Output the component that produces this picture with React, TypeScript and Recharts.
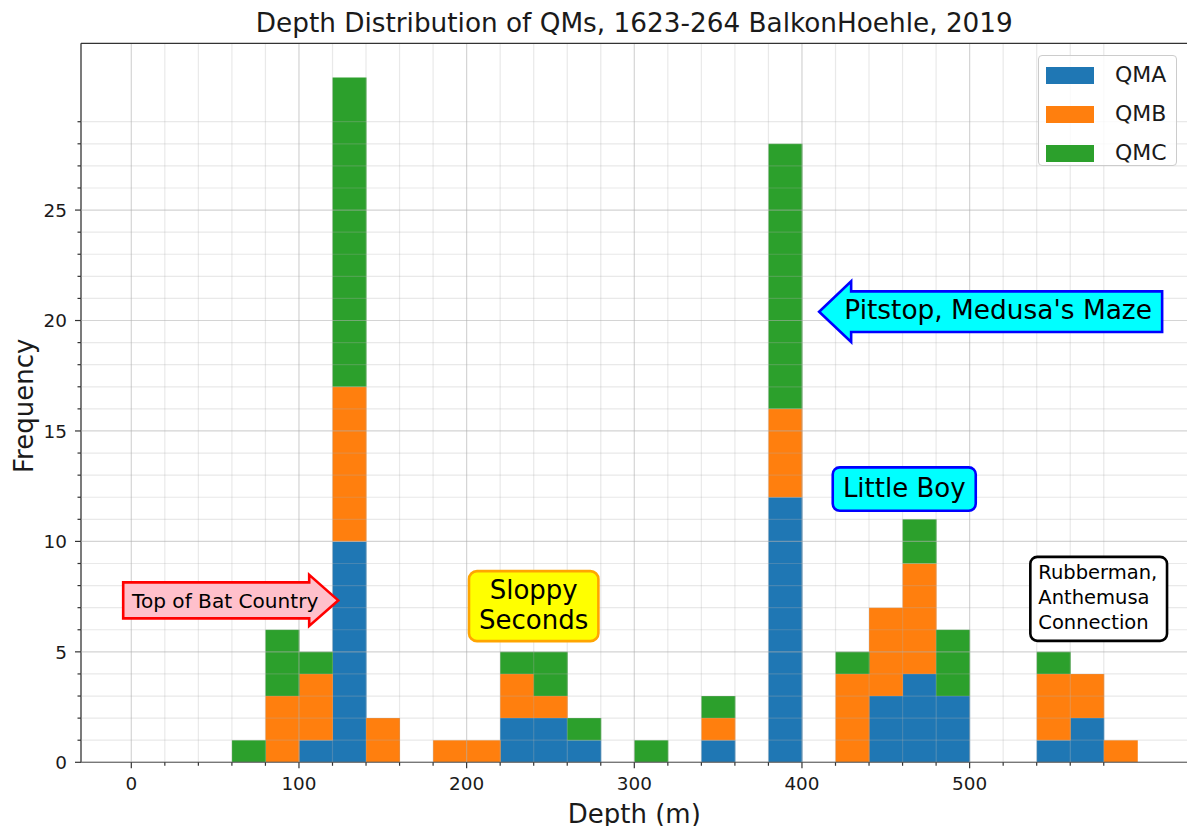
import React from 'react';
import {
  BarChart,
  Bar,
  XAxis,
  YAxis,
  CartesianGrid,
  ReferenceLine,
  ReferenceDot,
  Legend,
  Label,
} from 'recharts';

// ---------- data ----------
const binStarts = [60, 80, 100, 120, 140, 160, 180, 200, 220, 240, 260, 280, 300, 320, 340, 360, 380, 400, 420, 440, 460, 480, 500, 520, 540, 560, 580];
const binWidth = 20;
const qmaCounts = [0, 0, 1, 10, 0, 0, 0, 0, 2, 2, 1, 0, 0, 0, 1, 0, 12, 0, 0, 3, 4, 3, 0, 0, 1, 2, 0];
const qmbCounts = [0, 3, 3, 7, 2, 0, 1, 1, 2, 1, 0, 0, 0, 0, 1, 0, 4, 0, 4, 4, 5, 0, 0, 0, 3, 2, 1];
const qmcCounts = [1, 3, 1, 14, 0, 0, 0, 0, 1, 2, 1, 0, 1, 0, 1, 0, 12, 0, 1, 0, 2, 3, 0, 0, 1, 0, 0];
const seriesNames = ['QMA', 'QMB', 'QMC'];

const xMajorTicks = [0, 100, 200, 300, 400, 500];
const xMinorTicks = [0, 20, 40, 60, 80, 100, 120, 140, 160, 180, 200, 220, 240, 260, 280, 300, 320, 340, 360, 380, 400, 420, 440, 460, 480, 500, 520, 540, 560, 580];
const yMajorTicks = [0, 5, 10, 15, 20, 25];
const yMinorTicks = [0, 1, 2, 3, 4, 5, 6, 7, 8, 9, 10, 11, 12, 13, 14, 15, 16, 17, 18, 19, 20, 21, 22, 23, 24, 25, 26, 27, 28, 29];
const xDomain: [number, number] = [-30, 630];
const yDomain: [number, number] = [0, 32.55];

const titleText = 'Depth Distribution of QMs, 1623-264 BalkonHoehle, 2019';
const xLabelText = 'Depth (m)';
const yLabelText = 'Frequency';

// annotation texts and their anchor positions (data coordinates)
const annotationLabels = [
  ['Top of Bat Country'],
  ['Sloppy', 'Seconds'],
  ["Pitstop, Medusa's Maze"],
  ['Little Boy'],
  ['Rubberman,', 'Anthemusa', 'Connection'],
];
const annotationX = [56, 240, 517, 461, 577];
const annotationY = [7.33, 7.07, 20.4, 12.37, 7.4];

// ---------- styles ----------
const FONT = "'DejaVu Sans', 'Liberation Sans', sans-serif";
const seriesColors = ['#1f77b4', '#ff7f0e', '#2ca02c'];
const TEXT = '#1a1a1a';
const SPINE = '#333333';

const data = binStarts.map((s, i) => ({
  mid: s + binWidth / 2,
  QMA: qmaCounts[i],
  QMB: qmbCounts[i],
  QMC: qmcCounts[i],
}));

const allXTicks = Array.from(new Set([...xMinorTicks, ...xMajorTicks])).sort((a, b) => a - b);
const allYTicks = Array.from(new Set([...yMinorTicks, ...yMajorTicks])).sort((a, b) => a - b);
const xMinorGrid = xMinorTicks.filter((v) => !xMajorTicks.includes(v));
const yMinorGrid = yMinorTicks.filter((v) => !yMajorTicks.includes(v));

const XTick = (props: any) => {
  const { x, y, payload } = props;
  const v = payload.value;
  const major = xMajorTicks.includes(v);
  return (
    <g>
      <line x1={x} x2={x} y1={y} y2={y + (major ? 6 : 3.5)} stroke={SPINE} strokeWidth={1.2} />
      {major && (
        <text x={x} y={y + 27.7} textAnchor="middle" fontSize={18.4} fontFamily={FONT} fill={TEXT}>
          {v}
        </text>
      )}
    </g>
  );
};

const YTick = (props: any) => {
  const { x, y, payload } = props;
  const v = payload.value;
  const major = yMajorTicks.includes(v);
  return (
    <g>
      <line x1={x} x2={x - (major ? 6 : 3.5)} y1={y} y2={y} stroke={SPINE} strokeWidth={1.2} />
      {major && (
        <text x={x - 14} y={y + 6.7} textAnchor="end" fontSize={18.4} fontFamily={FONT} fill={TEXT}>
          {v}
        </text>
      )}
    </g>
  );
};

const renderYLabel = (props: any) => {
  const vb = props.viewBox || {};
  const cx = vb.x + 33;
  const cy = vb.y + vb.height / 2 + 3;
  return (
    <text x={cx} y={cy} transform={`rotate(-90 ${cx} ${cy})`} textAnchor="middle" fontSize={26} fontFamily={FONT} fill={TEXT}>
      {yLabelText}
    </text>
  );
};

const renderXLabel = (props: any) => {
  const vb = props.viewBox || {};
  const cx = vb.x + vb.width / 2;
  const cy = vb.y + 61;
  return (
    <text x={cx} y={cy} textAnchor="middle" fontSize={26} fontFamily={FONT} fill={TEXT}>
      {xLabelText}
    </text>
  );
};

const renderLegend = (props: any) => {
  const payload = props.payload || [];
  return (
    <div
      style={{
        position: 'relative',
        width: 139,
        height: 111,
        boxSizing: 'border-box',
        border: '1px solid #cccccc',
        borderRadius: 4,
        background: 'rgba(255,255,255,0.8)',
        fontFamily: FONT,
      }}
    >
      {payload.map((p: any, i: number) => (
        <div key={p.value} style={{ position: 'absolute', left: 0, top: 19 + i * 39 - 15, height: 30, width: '100%' }}>
          <div style={{ position: 'absolute', left: 7, top: 6.5, width: 48, height: 17, background: p.color }} />
          <div style={{ position: 'absolute', left: 76, top: 0, height: 30, lineHeight: '30px', fontSize: 22, color: TEXT }}>
            {p.value}
          </div>
        </div>
      ))}
    </div>
  );
};

type Shape = (p: any) => React.ReactElement;

const textLines = (lines: string[], x: number, baselines: number[], size: number, anchor: string) =>
  lines.map((t, i) => (
    <text key={i} x={x} y={baselines[i]} textAnchor={anchor as any} fontSize={size} fontFamily={FONT} fill="#000">
      {t}
    </text>
  ));

const annotationShapes: Shape[] = [
  // Top of Bat Country (right arrow)
  (p) => {
    const { cx, cy } = p;
    const pts = [
      [-102, -18], [84, -18], [84, -25.5], [113, 0], [84, 25.5], [84, 18], [-102, 18],
    ].map(([dx, dy]) => `${cx + dx},${cy + dy}`).join(' ');
    return (
      <g>
        <polygon points={pts} fill="#ffc0cb" stroke="#ff0000" strokeWidth={2.6} strokeLinejoin="miter" />
        {textLines(annotationLabels[0], cx, [cy + 7.5], 20.1, 'middle')}
      </g>
    );
  },
  // Sloppy Seconds (rounded)
  (p) => {
    const { cx, cy } = p;
    return (
      <g>
        <rect x={cx - 64.7} y={cy - 35} width={129.4} height={70} rx={8} ry={8} fill="#ffff00" stroke="#ffa500" strokeWidth={2.6} />
        {textLines(annotationLabels[1], cx, [cy - 7, cy + 22.7], 26, 'middle')}
      </g>
    );
  },
  // Pitstop (left arrow)
  (p) => {
    const { cx, cy } = p;
    const pts = [
      [164, -20.3], [-147, -20.3], [-147, -30.3], [-179, 0], [-147, 30.3], [-147, 20.3], [164, 20.3],
    ].map(([dx, dy]) => `${cx + dx},${cy + dy}`).join(' ');
    return (
      <g>
        <polygon points={pts} fill="#00ffff" stroke="#0000ff" strokeWidth={2.6} />
        {textLines(annotationLabels[2], cx, [cy + 7.6], 26.4, 'middle')}
      </g>
    );
  },
  // Little Boy (rounded)
  (p) => {
    const { cx, cy } = p;
    return (
      <g>
        <rect x={cx - 71.5} y={cy - 21.7} width={143} height={43.4} rx={7} ry={7} fill="#00ffff" stroke="#0000ff" strokeWidth={2.6} />
        {textLines(annotationLabels[3], cx, [cy + 7.7], 26, 'middle')}
      </g>
    );
  },
  // Rubberman (rounded, white)
  (p) => {
    const { cx, cy } = p;
    return (
      <g>
        <rect x={cx - 68.4} y={cy - 42} width={136.7} height={84} rx={7} ry={7} fill="#ffffff" stroke="#000000" strokeWidth={2.6} />
        {textLines(annotationLabels[4], cx - 60.4, [cy - 19.4, cy + 5.6, cy + 30.3], 19.5, 'start')}
      </g>
    );
  },
];

export default function App() {
  return (
    <div
      style={{
        position: 'absolute',
        left: 0,
        top: 0,
        width: 1187,
        height: 826,
        overflow: 'hidden',
        background: '#ffffff',
        fontFamily: FONT,
      }}
    >
      <svg width={1187} height={45} style={{ position: 'absolute', left: 0, top: 0, zIndex: 2 }}>
        <text x={634.3} y={31.5} textAnchor="middle" fontSize={26.3} fontFamily={FONT} fill={TEXT}>
          {titleText}
        </text>
      </svg>
      <BarChart
        width={1200}
        height={826}
        data={data}
        margin={{ top: 43.3, right: 12.4, left: 0, bottom: 0 }}
        barCategoryGap={0}
        barGap={0}
      >
        <XAxis
          dataKey="mid"
          type="number"
          domain={xDomain}
          allowDataOverflow
          ticks={allXTicks}
          interval={0}
          height={63.7}
          tickSize={0}
          tickMargin={0}
          tickLine={false}
          axisLine={{ stroke: SPINE, strokeWidth: 1.3 }}
          tick={<XTick />}
        >
          <Label content={renderXLabel} />
        </XAxis>
        <YAxis
          type="number"
          domain={yDomain}
          allowDataOverflow
          ticks={allYTicks}
          interval={0}
          width={81}
          tickSize={0}
          tickMargin={0}
          tickLine={false}
          axisLine={{ stroke: SPINE, strokeWidth: 1.3 }}
          tick={<YTick />}
        >
          <Label content={renderYLabel} />
        </YAxis>
        {seriesNames.map((name, i) => (
          <Bar key={name} dataKey={name} name={name} stackId="hist" fill={seriesColors[i]} isAnimationActive={false} />
        ))}
        <CartesianGrid
          horizontalValues={yMinorGrid}
          verticalValues={xMinorGrid}
          stroke="#b0b0b0"
          strokeOpacity={0.28}
          strokeWidth={1.2}
          zIndex={500}
        />
        <CartesianGrid
          horizontalValues={yMajorTicks}
          verticalValues={xMajorTicks}
          stroke="#b0b0b0"
          strokeOpacity={0.55}
          strokeWidth={1.2}
          zIndex={501}
        />
        <ReferenceLine y={yDomain[1]} stroke={SPINE} strokeWidth={1.3} ifOverflow="visible" zIndex={600} />
        {annotationShapes.map((shape, i) => (
          <ReferenceDot
            key={i}
            x={annotationX[i]}
            y={annotationY[i]}
            r={0}
            ifOverflow="visible"
            shape={shape}
            zIndex={1000}
          />
        ))}
        <Legend
          layout="vertical"
          align="center"
          verticalAlign="middle"
          wrapperStyle={{ left: 1038, top: 55, width: 139, height: 111 }}
          content={renderLegend}
        />
      </BarChart>
    </div>
  );
}
